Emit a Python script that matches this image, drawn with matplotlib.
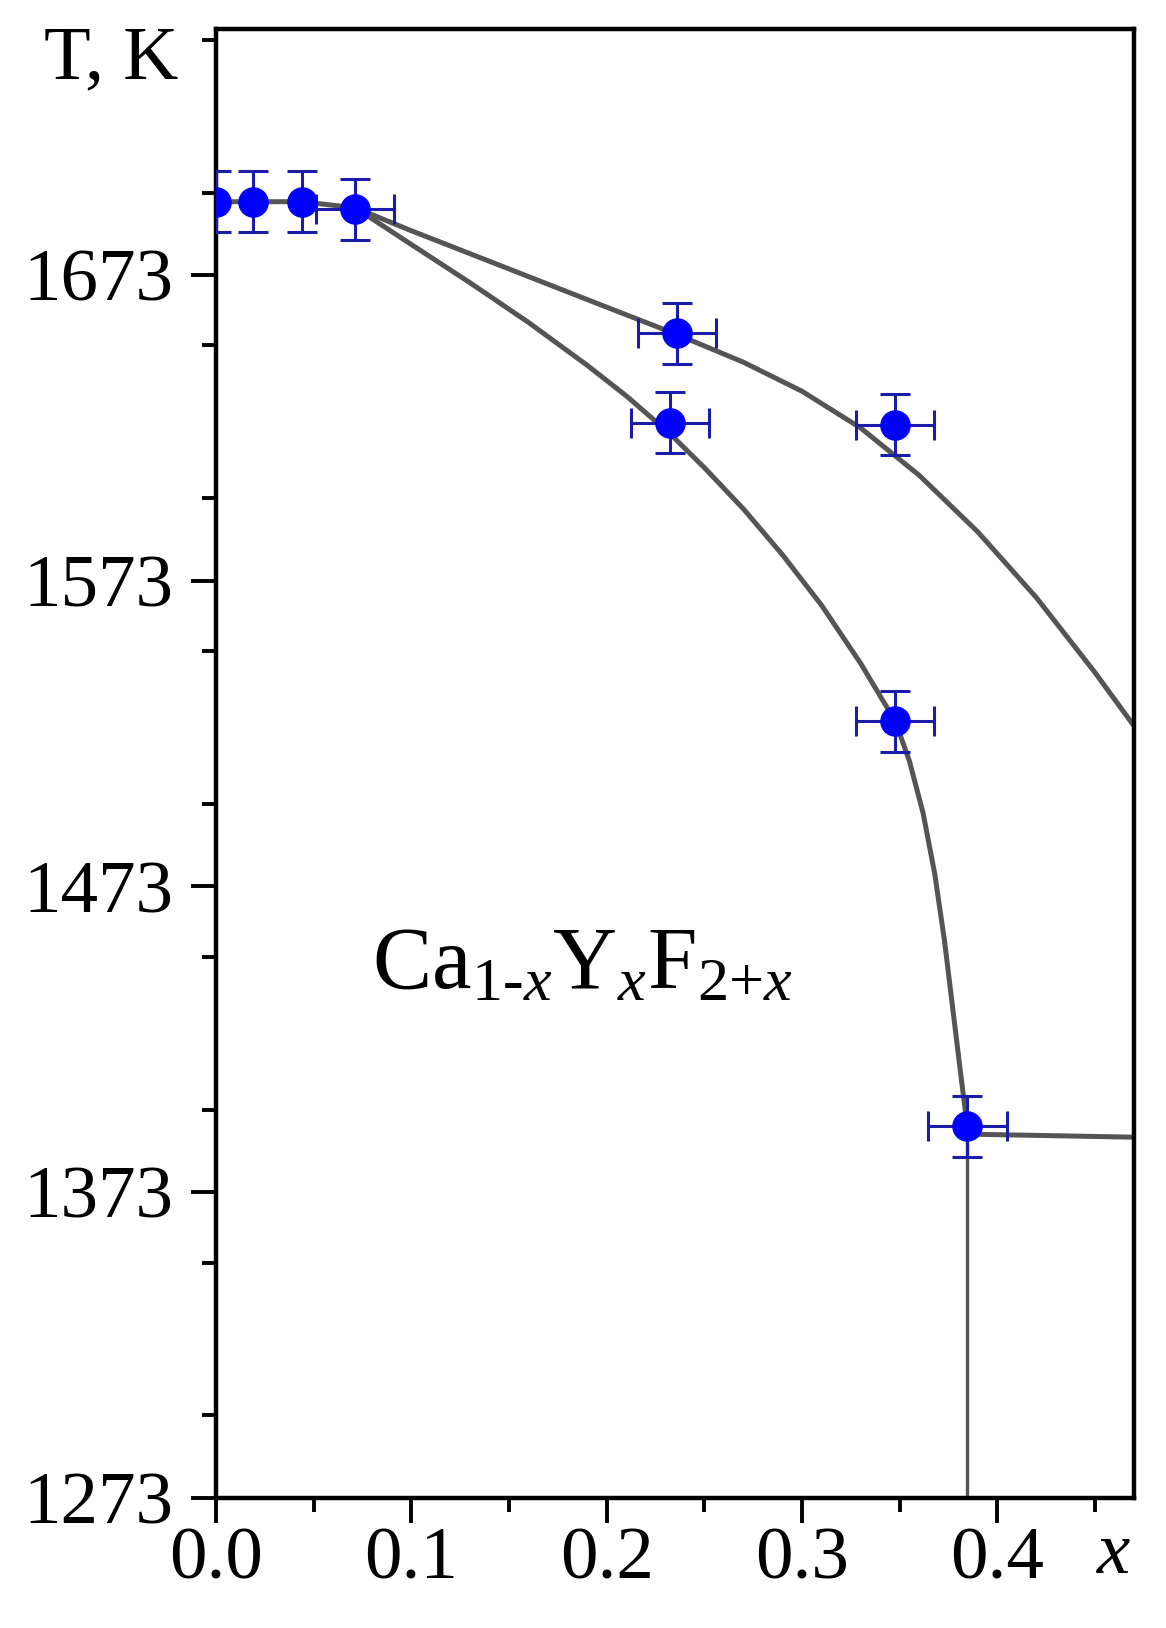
import numpy as np
import matplotlib
matplotlib.use("Agg")
from matplotlib import pyplot as plt
from matplotlib.ticker import MultipleLocator

plt.rcParams['font.family'] = ['Liberation Serif', 'DejaVu Serif']
plt.rcParams['mathtext.fontset'] = 'custom'
plt.rcParams['mathtext.rm'] = 'Liberation Serif'
plt.rcParams['mathtext.it'] = 'Liberation Serif:italic'

# measured points
x_pts = [0.0, 0.019, 0.044, 0.0713, 0.2362, 0.2326, 0.3478, 0.3478, 0.3847]
T_pts = [1697, 1697, 1697, 1694.5, 1654, 1624.7, 1624, 1527, 1394.5]
x_err = [0, 0, 0, 0.02, 0.02, 0.02, 0.02, 0.02, 0.02]
T_err = [10, 10, 10, 10, 10, 10, 10, 10, 10]

# liquidus (upper line)
x_liq = [0.0, 0.044, 0.0713, 0.10, 0.15, 0.20, 0.2362, 0.27, 0.30, 0.33,
         0.36, 0.39, 0.42, 0.45, 0.47]
T_liq = [1697, 1697, 1695, 1687.5, 1675, 1662.5, 1653.5, 1644.5, 1635, 1623,
         1607.5, 1589, 1567.5, 1543, 1525.5]

# solidus (lower line)
x_sol = [0.0713, 0.10, 0.13, 0.16, 0.19, 0.21, 0.2326, 0.25, 0.27, 0.29,
         0.31, 0.33, 0.3478, 0.355, 0.362, 0.368, 0.373, 0.377, 0.381, 0.3846]
T_sol = [1695, 1683, 1670.5, 1657.5, 1643.5, 1633.5, 1621, 1610, 1596.5, 1581.5,
         1565, 1546, 1527, 1514, 1497, 1477, 1455, 1434, 1413, 1394.5]

# eutectic horizontal and vertical boundary
x_eut = [0.3846, 0.47]
T_eut = [1392, 1391]
x_vert = [0.3846, 0.3846]
T_vert = [1273, 1394.5]

yticks = [1273, 1373, 1473, 1573, 1673]
xticks = [0.0, 0.1, 0.2, 0.3, 0.4]

fig = plt.figure(figsize=(11.66, 16.28), dpi=100)
ax = fig.add_axes([0.1853, 0.0799, 0.7873, 0.9023])

line_col = '#555555'
ax.plot(x_liq, T_liq, color=line_col, lw=3.6, zorder=2, solid_joinstyle='round')
ax.plot(x_sol, T_sol, color=line_col, lw=3.6, zorder=2, solid_joinstyle='round')
ax.plot(x_eut, T_eut, color=line_col, lw=3.6, zorder=2)
ax.plot(x_vert, T_vert, color=line_col, lw=2.4, zorder=2)

ax.errorbar(x_pts, T_pts, xerr=x_err, yerr=T_err, fmt='o', color='#0000ff',
            ms=21, ecolor='#1c1ca8', elinewidth=2.2, capsize=11, capthick=2.2,
            zorder=3)

ax.set_xlim(0, 0.47)
ax.set_ylim(1273, 1753.5)
ax.set_xticks(xticks)
ax.set_xticklabels(['%.1f' % v for v in xticks])
ax.set_yticks(yticks)
ax.set_yticklabels([str(v) for v in yticks])
ax.xaxis.set_minor_locator(MultipleLocator(0.05))
ax.yaxis.set_minor_locator(MultipleLocator(50))

for s in ax.spines.values():
    s.set_linewidth(3.2)
ax.tick_params(which='both', direction='out', width=2.8, top=False, right=False)
ax.tick_params(which='major', length=18, labelsize=54)
ax.tick_params(which='minor', length=10)
ax.tick_params(axis='y', which='major', pad=13)
ax.tick_params(axis='x', which='major', pad=3)

ax.text(0.080, 1440, r'$\mathrm{Ca}_{1\text{-}x}\mathrm{Y}_{x}\mathrm{F}_{2{+}x}$',
        fontsize=64, ha='left', va='baseline')

fig.text(0.038, 0.952, 'T, K', fontsize=55, ha='left', va='baseline')
fig.text(0.941, 0.034, 'x', fontsize=54, style='italic', ha='left', va='baseline')

fig.savefig('out.png', dpi=100)
